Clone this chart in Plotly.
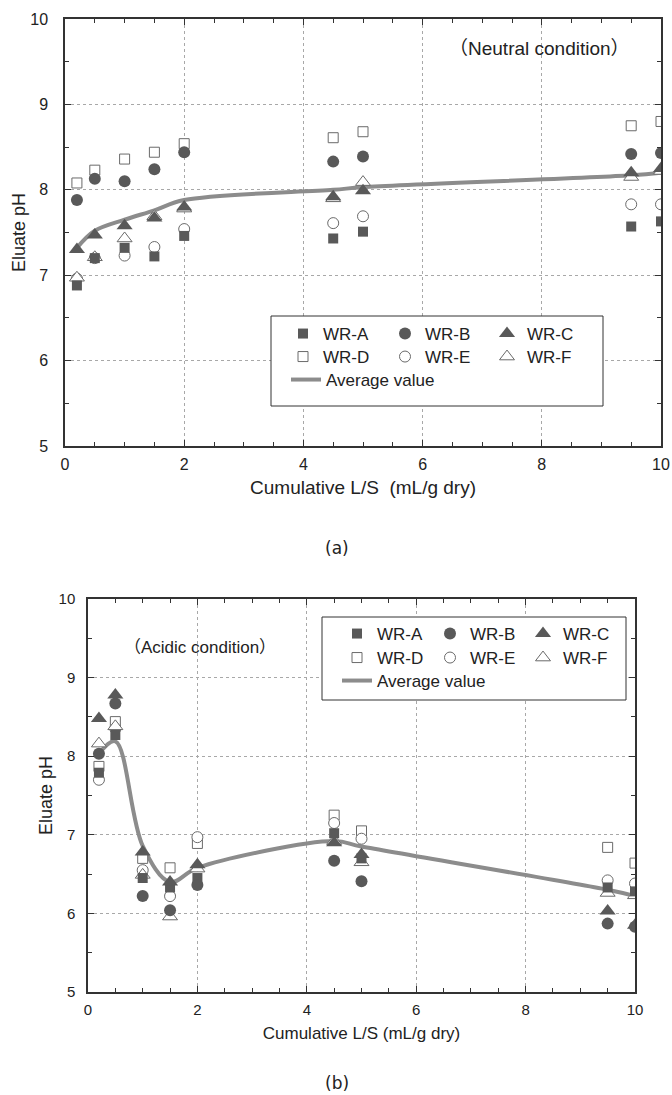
import plotly.graph_objects as go

W, H = 672, 1095

# Cumulative liquid-to-solid ratio (mL/g dry) at each sampling step
ls = [0.2, 0.5, 1.0, 1.5, 2.0, 4.5, 5.0, 9.5, 10.0]

# Eluate pH, neutral condition
neu_a = [6.88, 7.20, 7.32, 7.22, 7.46, 7.43, 7.51, 7.57, 7.63]
neu_b = [7.88, 8.13, 8.10, 8.24, 8.44, 8.33, 8.39, 8.42, 8.43]
neu_c = [7.30, 7.47, 7.58, 7.67, 7.80, 7.92, 7.99, 8.20, 8.25]
neu_d = [8.08, 8.23, 8.36, 8.44, 8.54, 8.61, 8.68, 8.75, 8.80]
neu_e = [6.96, 7.20, 7.23, 7.33, 7.54, 7.61, 7.69, 7.83, 7.83]
neu_f = [6.97, 7.21, 7.43, 7.69, 7.78, 7.90, 8.09, 8.15, 8.22]
neu_avg = [7.32, 7.52, 7.65, 7.76, 7.88, 8.00, 8.03, 8.17, 8.20]

# Eluate pH, acidic condition
acid_a = [7.79, 8.27, 6.45, 6.33, 6.45, 7.02, 6.70, 6.33, 6.28]
acid_b = [8.03, 8.67, 6.22, 6.04, 6.36, 6.67, 6.41, 5.87, 5.83]
acid_c = [8.48, 8.78, 6.78, 6.40, 6.62, 6.90, 6.75, 6.03, 5.85]
acid_d = [7.87, 8.44, 6.70, 6.58, 6.89, 7.25, 7.05, 6.84, 6.64]
acid_e = [7.70, 8.35, 6.55, 6.22, 6.97, 7.15, 6.95, 6.42, 6.38]
acid_f = [8.16, 8.38, 6.49, 5.96, 6.57, 6.92, 6.65, 6.26, 6.23]
acid_avg = [8.03, 8.19, 6.86, 6.40, 6.58, 6.92, 6.85, 6.30, 6.22]

samples = ["WR-A", "WR-B", "WR-C", "WR-D", "WR-E", "WR-F"]

DARK = "#595959"
EDGE = "#6a6a6a"
AVG = "#8c8c8c"
FONT = "Liberation Sans, Arial, sans-serif"
CJK_FONT = "Liberation Sans, Noto Sans CJK SC, sans-serif"

styles = {
    "WR-A": dict(symbol="square", size=10, color=DARK, line=dict(width=0)),
    "WR-B": dict(symbol="circle", size=12, color=DARK, line=dict(width=0)),
    "WR-C": dict(symbol="triangle-up", size=14, color=DARK, line=dict(width=0)),
    "WR-D": dict(symbol="square", size=10, color="white", line=dict(width=1, color=EDGE)),
    "WR-E": dict(symbol="circle", size=11, color="white", line=dict(width=1, color=EDGE)),
    "WR-F": dict(symbol="triangle-up", size=13, color="white", line=dict(width=1, color=EDGE)),
}

# open markers drawn first, filled markers on top
draw_order = ["WR-D", "WR-E", "WR-F", "WR-A", "WR-B", "WR-C"]

panels = [
    dict(x="x", y="y", legs=("legend", "legend2", "legend3"),
         series=dict(zip(samples, [neu_a, neu_b, neu_c, neu_d, neu_e, neu_f])), avg=neu_avg),
    dict(x="x2", y="y2", legs=("legend4", "legend5", "legend6"),
         series=dict(zip(samples, [acid_a, acid_b, acid_c, acid_d, acid_e, acid_f])), avg=acid_avg),
]

fig = go.Figure()
for p in panels:
    fig.add_trace(go.Scatter(
        x=ls, y=p["avg"], mode="lines", name="Average value",
        line=dict(color=AVG, width=4, shape="spline", smoothing=1.0),
        xaxis=p["x"], yaxis=p["y"], legend=p["legs"][2]))
    for s in draw_order:
        leg = p["legs"][0] if s in ("WR-A", "WR-B", "WR-C") else p["legs"][1]
        fig.add_trace(go.Scatter(
            x=ls, y=p["series"][s], mode="markers", name=s,
            marker=styles[s], xaxis=p["x"], yaxis=p["y"], legend=leg,
            legendrank=samples.index(s)))


def py(v):
    return 1 - v / H


def px(v):
    return v / W


def xax(domain, anchor, tsize, title, title_size, tstand):
    return dict(
        domain=domain, anchor=anchor, range=[0, 10], dtick=2, tick0=0,
        ticks="inside", ticklen=6, tickwidth=1, tickcolor="#333",
        minor=dict(dtick=0.5, ticks="inside", ticklen=4, tickcolor="#333", showgrid=False),
        showgrid=True, gridcolor="#a8a8a8", griddash="3px,3px", gridwidth=1,
        showline=True, linecolor="#333", linewidth=1.5, mirror="ticks",
        zeroline=False, automargin=False,
        tickfont=dict(family=FONT, size=tsize, color="#222"),
        ticklabelstandoff=3,
        title=dict(text=title, font=dict(family=FONT, size=title_size, color="#222"), standoff=tstand),
    )


def yax(domain, anchor, tsize, tstand, lstand):
    return dict(
        domain=domain, range=[5, 10], dtick=1, tick0=5, anchor=anchor,
        ticks="inside", ticklen=6, tickwidth=1, tickcolor="#333",
        minor=dict(dtick=0.5, ticks="inside", ticklen=4, tickcolor="#333", showgrid=False),
        showgrid=True, gridcolor="#a8a8a8", griddash="3px,3px", gridwidth=1,
        showline=True, linecolor="#333", linewidth=1.5, mirror="ticks",
        zeroline=False, automargin=False,
        tickfont=dict(family=FONT, size=tsize, color="#222"),
        ticklabelstandoff=lstand,
        title=dict(text="Eluate pH", font=dict(family=FONT, size=18, color="#222"), standoff=tstand),
    )


def leg(xpx, ypx, ew):
    return dict(
        x=px(xpx), y=py(ypx), xanchor="left", yanchor="middle",
        orientation="h", entrywidth=ew, entrywidthmode="pixels",
        bgcolor="rgba(0,0,0,0)", borderwidth=0, itemclick=False,
        font=dict(family=FONT, size=17, color="#222"), traceorder="normal",
        tracegroupgap=0,
    )


def note(text, xpx, ypx, family, size, xanchor="center"):
    return dict(text=text, x=px(xpx), y=py(ypx), xref="paper", yref="paper",
                xanchor=xanchor, yanchor="middle", showarrow=False,
                font=dict(family=family, size=size, color="#222"))


fig.update_layout(
    width=W, height=H, margin=dict(l=0, r=0, t=0, b=0),
    paper_bgcolor="white", plot_bgcolor="white",
    xaxis=xax([px(65), px(661)], "y", 16, "Cumulative L/S\u00a0 (mL/g dry)", 19, 9),
    yaxis=yax([py(446), py(19)], "x", 16, 0, 12),
    xaxis2=xax([px(88), px(635)], "y2", 15, "Cumulative L/S (mL/g dry)", 17, 10),
    yaxis2=yax([py(992), py(599)], "x2", 15, 1, 8),
    legend=leg(283, 334, 57),
    legend2=leg(283, 357, 57),
    legend3=leg(286, 380, 130),
    legend4=leg(337, 634, 48),
    legend5=leg(337, 658, 48),
    legend6=leg(337, 681, 130),
    shapes=[
        dict(type="rect", xref="paper", yref="paper", layer="above",
             x0=px(271), x1=px(603), y0=py(406), y1=py(316),
             fillcolor="white", line=dict(color="#333", width=1)),
        dict(type="rect", xref="paper", yref="paper", layer="above",
             x0=px(322), x1=px(626), y0=py(700), y1=py(617),
             fillcolor="white", line=dict(color="#333", width=1)),
    ],
    annotations=[
        note("\uff08Neutral condition\uff09", 539, 48, CJK_FONT, 19),
        note("\uff08Acidic condition\uff09", 122, 647, CJK_FONT, 17, xanchor="left"),
        note("(a)", 337, 548, "DejaVu Sans, sans-serif", 17),
        note("(b)", 337, 1083, "DejaVu Sans, sans-serif", 17),
    ],
)

fig.write_html("out.html")
